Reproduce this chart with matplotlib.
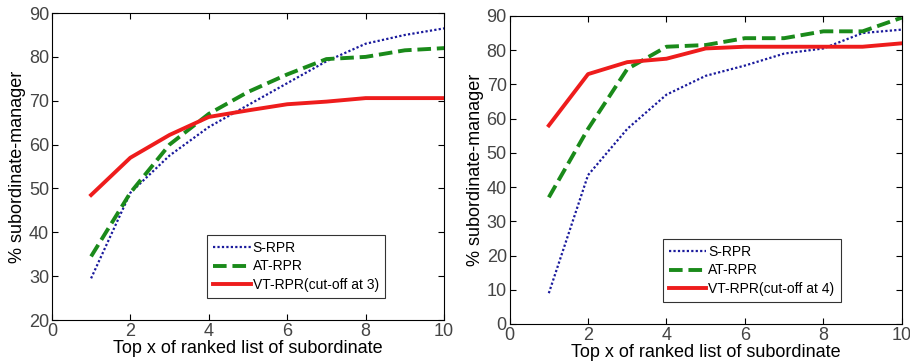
import matplotlib
matplotlib.use("Agg")
import matplotlib.pyplot as plt

plt.rcParams['font.family'] = ['Liberation Sans', 'DejaVu Sans']

# ------------------------------------------------------------
# data
# ------------------------------------------------------------
top_x = [1, 2, 3, 4, 5, 6, 7, 8, 9, 10]

left_s_rpr = [29.5, 49, 57.5, 64, 69, 74, 79, 83, 85, 86.5]
left_at_rpr = [34.5, 49, 60, 67, 72, 76, 79.5, 80, 81.5, 82]
left_vt_rpr = [48.5, 57, 62.2, 66.3, 67.8, 69.2, 69.8, 70.6, 70.6, 70.6]

right_s_rpr = [9, 43.5, 57, 67, 72.5, 75.5, 79, 80.5, 85, 86]
right_at_rpr = [37, 57, 74.5, 81, 81.5, 83.5, 83.5, 85.5, 85.5, 89.5]
right_vt_rpr = [58, 73, 76.5, 77.5, 80.5, 81, 81, 81, 81, 82]

left_labels = ["S-RPR", "AT-RPR", "VT-RPR(cut-off at 3)"]
right_labels = ["S-RPR", "AT-RPR", "VT-RPR(cut-off at 4)"]

x_ticks = [0, 2, 4, 6, 8, 10]
left_y_ticks = [20, 30, 40, 50, 60, 70, 80, 90]
right_y_ticks = [0, 10, 20, 30, 40, 50, 60, 70, 80, 90]

BLUE = "#1a1a9c"
GREEN = "#1a8a1a"
RED = "#ee1c1c"


def draw_panel(ax, s, at, vt, labels, y_ticks, legend_box):
    ax.plot(top_x, s, color=BLUE, linestyle=(0, (1, 1)), linewidth=1.6, label=labels[0])
    ax.plot(top_x, at, color=GREEN, linestyle=(0, (3.5, 1.5)), linewidth=2.8, label=labels[1])
    ax.plot(top_x, vt, color=RED, linestyle="-", linewidth=2.8, label=labels[2])
    ax.set_xlim(x_ticks[0], x_ticks[-1])
    ax.set_ylim(y_ticks[0], y_ticks[-1])
    ax.set_xticks(x_ticks)
    ax.set_yticks(y_ticks)
    ax.tick_params(direction="in", top=True, right=True, labelsize=13,
                   labelcolor="#444444", length=4, pad=2)
    ax.set_xlabel("Top x of ranked list of subordinate", fontsize=13, labelpad=0)
    ax.set_ylabel("% subordinate-manager", fontsize=13, labelpad=2)
    leg = ax.legend(loc="lower left", bbox_to_anchor=legend_box, fontsize=10,
                    frameon=True, fancybox=False, handlelength=2.7,
                    handletextpad=0.15, labelspacing=0.3, borderpad=0.45,
                    borderaxespad=0)
    leg.get_frame().set_edgecolor("black")
    leg.get_frame().set_linewidth(0.8)


fig = plt.figure(figsize=(9.10, 3.62), dpi=100)
ax1 = fig.add_axes([0.057, 0.116, 0.431, 0.848])
ax2 = fig.add_axes([0.560, 0.105, 0.431, 0.851])

draw_panel(ax1, left_s_rpr, left_at_rpr, left_vt_rpr, left_labels,
           left_y_ticks, (0.395, 0.072))
draw_panel(ax2, right_s_rpr, right_at_rpr, right_vt_rpr, right_labels,
           right_y_ticks, (0.39, 0.072))

fig.savefig("out.png", dpi=100)
plt.close(fig)
